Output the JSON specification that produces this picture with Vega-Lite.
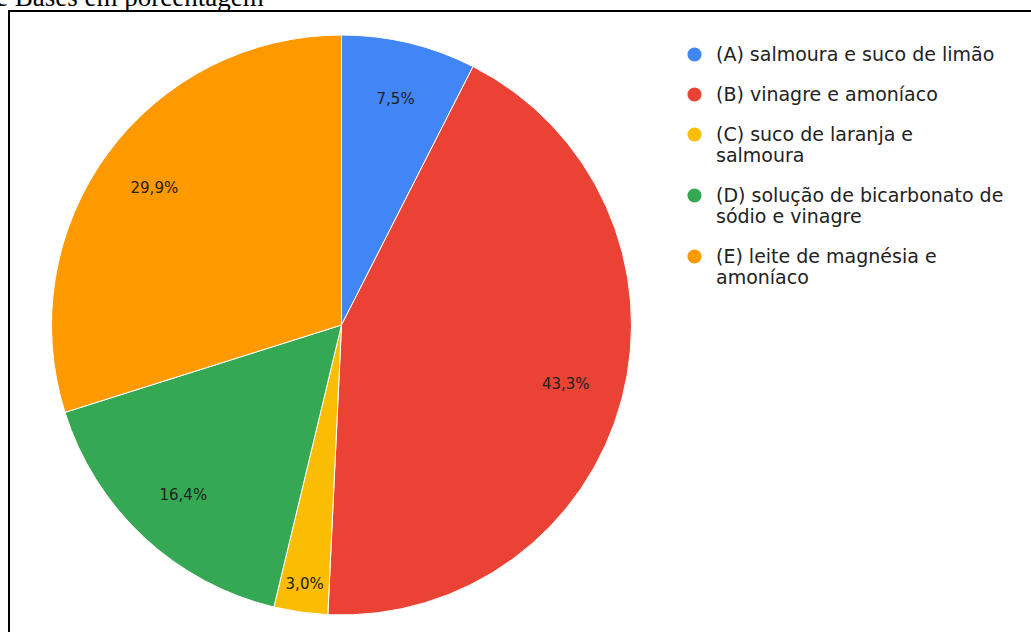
{
  "$schema": "https://vega.github.io/schema/vega-lite/v6.json",
  "background": "white",
  "padding": {"left": -4, "top": -17, "right": -3, "bottom": -6},
  "bounds": "flush",
  "title": {
    "text": "e Bases em porcentagem",
    "anchor": "start",
    "frame": "group",
    "font": "Liberation Serif",
    "fontSize": 27,
    "fontWeight": "normal",
    "color": "black",
    "baseline": "alphabetic",
    "offset": 0,
    "dx": -13,
    "dy": 23
  },
  "data": {
    "values": [
      {"opcao": "(A) salmoura e suco de limão", "valor": 7.5, "rotulo": "7,5%"},
      {"opcao": "(B) vinagre e amoníaco", "valor": 43.3, "rotulo": "43,3%"},
      {"opcao": "(C) suco de laranja e salmoura", "valor": 3.0, "rotulo": "3,0%"},
      {"opcao": "(D) solução de bicarbonato de sódio e vinagre", "valor": 16.4, "rotulo": "16,4%"},
      {"opcao": "(E) leite de magnésia e amoníaco", "valor": 29.9, "rotulo": "29,9%"}
    ]
  },
  "spacing": 0,
  "hconcat": [
    {
      "width": 665,
      "height": 628,
      "view": {"stroke": "black", "strokeWidth": 2, "strokeCap": "square", "strokeDash": [665, 1293, 628, 0]},
      "encoding": {
        "theta": {"field": "valor", "type": "quantitative", "stack": true},
        "order": {"field": "opcao", "type": "nominal", "sort": "ascending"},
        "color": {
          "field": "opcao",
          "type": "nominal",
          "scale": {
            "domain": [
              "(A) salmoura e suco de limão",
              "(B) vinagre e amoníaco",
              "(C) suco de laranja e salmoura",
              "(D) solução de bicarbonato de sódio e vinagre",
              "(E) leite de magnésia e amoníaco"
            ],
            "range": ["#4285F4", "#EA4335", "#FBBC04", "#34A853", "#FF9900"]
          },
          "legend": {
            "title": null,
            "orient": "none",
            "legendX": 676,
            "legendY": 34,
            "padding": 0,
            "symbolType": "circle",
            "symbolSize": 200,
            "symbolStrokeWidth": 0,
            "labelFont": "DejaVu Sans",
            "labelFontSize": 19,
            "labelColor": "#222222",
            "labelOffset": 12,
            "labelLimit": 0,
            "rowPadding": 20,
            "labelExpr": "datum.label == '(C) suco de laranja e salmoura' ? ['(C) suco de laranja e', 'salmoura'] : datum.label == '(D) solução de bicarbonato de sódio e vinagre' ? ['(D) solução de bicarbonato de', 'sódio e vinagre'] : datum.label == '(E) leite de magnésia e amoníaco' ? ['(E) leite de magnésia e', 'amoníaco'] : datum.label"
          }
        }
      },
      "layer": [
        {"mark": {"type": "arc", "outerRadius": 290, "stroke": "white", "strokeWidth": 1}},
        {
          "mark": {"type": "text", "radius": 232, "font": "DejaVu Sans", "fontSize": 15, "align": "center", "baseline": "middle"},
          "encoding": {
            "text": {"condition": {"test": "datum.valor < 5", "value": ""}, "field": "rotulo"},
            "color": {"value": "#222222"}
          }
        },
        {
          "mark": {"type": "text", "radius": 262, "font": "DejaVu Sans", "fontSize": 15, "align": "center", "baseline": "middle"},
          "encoding": {
            "text": {"condition": {"test": "datum.valor >= 5", "value": ""}, "field": "rotulo"},
            "color": {"value": "#222222"}
          }
        }
      ]
    },
    {
      "width": 358,
      "height": 628,
      "view": {"stroke": "black", "strokeWidth": 2, "strokeCap": "square", "strokeDash": [358, 5000]},
      "mark": {"type": "text"},
      "encoding": {}
    }
  ]
}
